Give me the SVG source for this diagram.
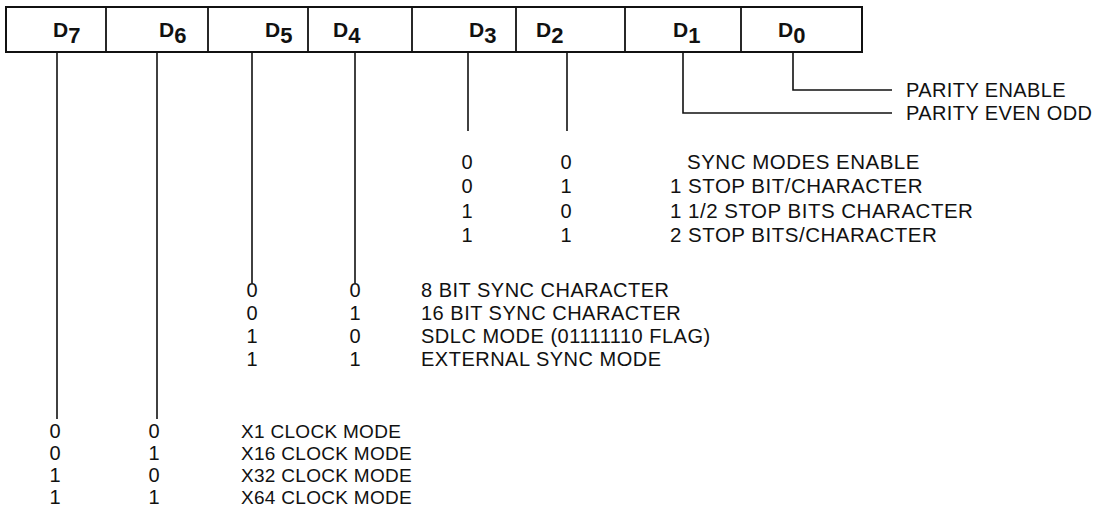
<svg xmlns="http://www.w3.org/2000/svg" width="1100" height="508" viewBox="0 0 1100 508">
<style>
.box{fill:#fff;stroke:#111;stroke-width:2}
.div{stroke:#111;stroke-width:1.8}
.ln{fill:none;stroke:#111;stroke-width:1.6}
.reg{font-family:"Liberation Sans",Arial,sans-serif;font-weight:bold;font-size:21px;fill:#111}
.sub{font-size:22px}
.t{font-family:"Liberation Sans",Arial,sans-serif;font-size:19px;fill:#111;letter-spacing:0.3px}
.p{font-size:20px;letter-spacing:0.4px}
.m{font-size:20px;letter-spacing:0.5px}
.s{font-size:20.5px;letter-spacing:0.5px}
.d{font-family:"Liberation Sans",Arial,sans-serif;font-size:20px;fill:#111;text-anchor:middle}
</style>
<rect width="1100" height="508" fill="#fff"/>
<g id="register">
<rect class="box" x="6" y="7" width="856" height="45"/>
<line class="div" x1="106" y1="7" x2="106" y2="52"/>
<line class="div" x1="208" y1="7" x2="208" y2="52"/>
<line class="div" x1="308" y1="7" x2="308" y2="52"/>
<line class="div" x1="412" y1="7" x2="412" y2="52"/>
<line class="div" x1="516" y1="7" x2="516" y2="52"/>
<line class="div" x1="625" y1="7" x2="625" y2="52"/>
<line class="div" x1="741" y1="7" x2="741" y2="52"/>
<text class="reg" x="53" y="37">D<tspan class="sub" dy="6">7</tspan></text>
<text class="reg" x="159" y="37">D<tspan class="sub" dy="6">6</tspan></text>
<text class="reg" x="265" y="37">D<tspan class="sub" dy="6">5</tspan></text>
<text class="reg" x="333" y="37">D<tspan class="sub" dy="6">4</tspan></text>
<text class="reg" x="469" y="37">D<tspan class="sub" dy="6">3</tspan></text>
<text class="reg" x="536" y="37">D<tspan class="sub" dy="6">2</tspan></text>
<text class="reg" x="673" y="37">D<tspan class="sub" dy="6">1</tspan></text>
<text class="reg" x="778" y="37">D<tspan class="sub" dy="6">0</tspan></text>
</g>
<g id="connectors">
<polyline class="ln" points="793,52 793,90 892,90"/>
<polyline class="ln" points="683,52 683,113 892,113"/>
<line class="ln" x1="468" y1="52" x2="468" y2="131"/>
<line class="ln" x1="567" y1="52" x2="567" y2="131"/>
<line class="ln" x1="252" y1="52" x2="252" y2="283"/>
<line class="ln" x1="355" y1="52" x2="355" y2="283"/>
<line class="ln" x1="57" y1="52" x2="57" y2="419"/>
<line class="ln" x1="157" y1="52" x2="157" y2="419"/>
</g>
<g id="parity">
<text class="t p" x="906" y="97">PARITY ENABLE</text>
<text class="t p" x="906" y="120">PARITY EVEN ODD</text>
</g>
<g id="stopbits">
<text class="d" x="467" y="169">0</text><text class="d" x="566" y="169">0</text><text class="t s" x="687" y="169">SYNC MODES ENABLE</text>
<text class="d" x="467" y="193">0</text><text class="d" x="566" y="193">1</text><text class="t s" x="670" y="193">1 STOP BIT/CHARACTER</text>
<text class="d" x="467" y="218">1</text><text class="d" x="566" y="218">0</text><text class="t s" x="670" y="218">1 1/2 STOP BITS CHARACTER</text>
<text class="d" x="467" y="242">1</text><text class="d" x="566" y="242">1</text><text class="t s" x="670" y="242">2 STOP BITS/CHARACTER</text>
</g>
<g id="sync">
<text class="d" x="252" y="297">0</text><text class="d" x="355" y="297">0</text><text class="t m" x="421" y="297">8 BIT SYNC CHARACTER</text>
<text class="d" x="252" y="320">0</text><text class="d" x="355" y="320">1</text><text class="t m" x="421" y="320">16 BIT SYNC CHARACTER</text>
<text class="d" x="252" y="343">1</text><text class="d" x="355" y="343">0</text><text class="t m" x="421" y="343">SDLC MODE (01111110 FLAG)</text>
<text class="d" x="252" y="366">1</text><text class="d" x="355" y="366">1</text><text class="t m" x="421" y="366">EXTERNAL SYNC MODE</text>
</g>
<g id="clock">
<text class="d" x="55" y="438">0</text><text class="d" x="154" y="438">0</text><text class="t" x="241" y="438">X1 CLOCK MODE</text>
<text class="d" x="55" y="460">0</text><text class="d" x="154" y="460">1</text><text class="t" x="241" y="460">X16 CLOCK MODE</text>
<text class="d" x="55" y="482">1</text><text class="d" x="154" y="482">0</text><text class="t" x="241" y="482">X32 CLOCK MODE</text>
<text class="d" x="55" y="504">1</text><text class="d" x="154" y="504">1</text><text class="t" x="241" y="504">X64 CLOCK MODE</text>
</g>
</svg>
